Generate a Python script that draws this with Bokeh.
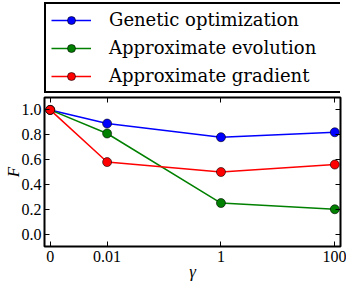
import numpy as np
from bokeh.plotting import figure
from bokeh.layouts import column
from bokeh.models import Legend, LegendItem, LinearAxis, FixedTicker, Range1d
from bokeh.embed import file_html
from bokeh.resources import INLINE

# ---- data ----
gamma = [0, 0.01, 1, 100]
gamma_labels = ["0", "0.01", "1", "100"]
genetic = [1.0, 0.89, 0.78, 0.82]
evolution = [1.0, 0.81, 0.25, 0.20]
gradient = [1.0, 0.58, 0.50, 0.56]
y_ticks = [0.0, 0.2, 0.4, 0.6, 0.8, 1.0]
y_labels = ["0.0", "0.2", "0.4", "0.6", "0.8", "1.0"]
names = ["Genetic optimization", "Approximate evolution", "Approximate gradient"]
colors = ["#0000ff", "#008000", "#ff0000"]
series = [genetic, evolution, gradient]

# symmetric-log x scale (linear threshold 0.01, one decade wide)
LINTHRESH = 0.01


def symlog(v):
    v = np.asarray(v, dtype=float)
    a = np.abs(v)
    return np.where(a <= LINTHRESH, v / LINTHRESH,
                    np.sign(v) * (1.0 + np.log10(np.maximum(a, LINTHRESH) / LINTHRESH)))


xpos = symlog(gamma)

FONT = "Liberation Serif"
LEG_FONT = "DejaVu Serif"
W = 346
H = 283
LEFT = 44
RIGHT = 6
LEG_H = 95

# ---- main plot ----
p = figure(width=W, height=H - LEG_H, output_backend="svg", toolbar_location=None,
           x_range=Range1d(-0.1, 5.1), y_range=Range1d(-0.1, 1.1),
           min_border_left=LEFT, min_border_right=RIGHT, min_border_top=2,
           min_border_bottom=0, x_axis_label="γ", y_axis_label="F")
p.grid.visible = False
p.outline_line_color = "black"
p.outline_line_width = 2
p.outline_line_alpha = 1.0
p.background_fill_color = "white"
p.border_fill_color = "white"

xt = [float(v) for v in xpos]
p.xaxis.ticker = FixedTicker(ticks=xt)
p.xaxis.major_label_overrides = {t: l for t, l in zip(xt, gamma_labels)}
p.yaxis.ticker = FixedTicker(ticks=y_ticks)
p.yaxis.major_label_overrides = {t: l for t, l in zip(y_ticks, y_labels)}

for ax in (p.xaxis[0], p.yaxis[0]):
    ax.axis_line_color = None
    ax.major_tick_in = 5
    ax.major_tick_out = 0
    ax.minor_tick_in = 0
    ax.minor_tick_out = 0
    ax.major_tick_line_width = 1
    ax.major_label_text_font = FONT
    ax.major_label_text_font_size = "16px"
    ax.major_label_text_color = "black"
    ax.major_label_standoff = 4
    ax.axis_label_text_font = FONT
    ax.axis_label_text_font_style = "italic"
    ax.axis_label_text_font_size = "17px"
    ax.axis_label_text_color = "black"
p.yaxis[0].major_label_standoff = 3
p.yaxis[0].axis_label_standoff = -4
p.xaxis[0].axis_label_standoff = -3

top = LinearAxis(ticker=FixedTicker(ticks=xt),
                 major_label_overrides={t: "" for t in xt})
right = LinearAxis(ticker=FixedTicker(ticks=y_ticks),
                   major_label_overrides={t: "" for t in y_ticks})
for ax in (top, right):
    ax.axis_line_color = None
    ax.major_tick_in = 5
    ax.major_tick_out = 0
    ax.minor_tick_in = 0
    ax.minor_tick_out = 0
    ax.major_label_text_font_size = "1px"
    ax.major_label_standoff = 0
p.add_layout(top, "above")
p.add_layout(right, "right")

for ys, c in zip(series, colors):
    p.line(xpos, ys, line_color=c, line_width=1.5)
    p.scatter(xpos, ys, size=9, fill_color=c, line_color="black", line_width=0.6)

# ---- legend panel (its glyph renderers lie outside the visible range) ----
lf = figure(width=W, height=LEG_H, output_backend="svg", toolbar_location=None,
            x_range=Range1d(-0.1, 5.1), y_range=Range1d(10, 11),
            x_axis_location=None, y_axis_location=None,
            min_border_left=LEFT, min_border_right=RIGHT, min_border_top=2,
            min_border_bottom=0)
lf.grid.visible = False
lf.outline_line_color = None
lf.border_fill_color = "white"

items = []
for ys, name, c in zip(series, names, colors):
    ln = lf.line(xpos, ys, line_color=c, line_width=1.5)
    sc = lf.scatter(xpos, ys, size=9, fill_color=c, line_color="black", line_width=0.6)
    items.append(LegendItem(label=name, renderers=[ln, sc]))

PAD = 5
GW = 40
STAND = 18
legend = Legend(items=items, location="top_left", orientation="vertical",
                border_line_color="black", border_line_width=2, border_line_alpha=1.0,
                label_text_font=LEG_FONT, label_text_font_size="18px",
                label_text_color="black",
                label_height=20, glyph_height=20, glyph_width=GW,
                label_standoff=STAND,
                label_width=W - LEFT - RIGHT - 2 * PAD - GW - STAND - 2,
                padding=PAD, spacing=7, margin=0, background_fill_alpha=1.0)
lf.add_layout(legend, "center")

layout = column(lf, p, spacing=0)
open("out.html", "w").write(file_html(layout, INLINE))
